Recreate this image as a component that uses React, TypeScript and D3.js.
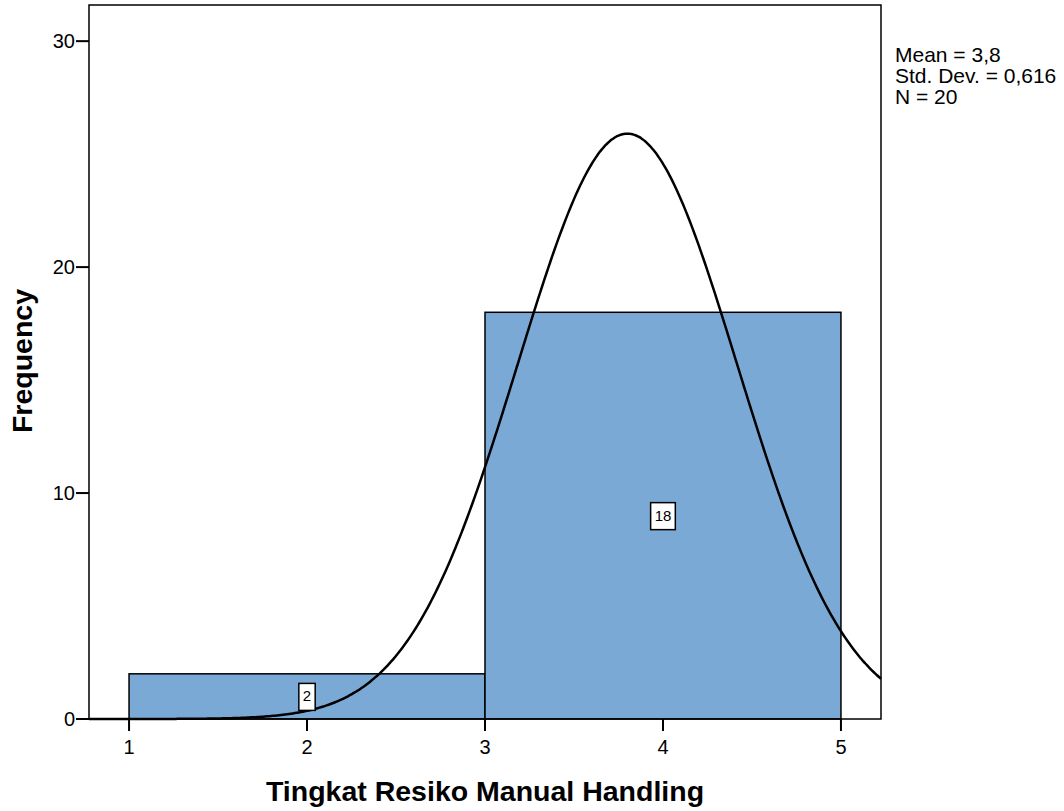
import React, { useEffect, useRef } from "react";
import * as d3 from "d3";

// histogram bins (bin start, bin end, count)
const binStarts = [1, 3];
const binEnds = [3, 5];
const binCounts = [2, 18];

const xTicks = [1, 2, 3, 4, 5];
const yTicks = [0, 10, 20, 30];

const meanValue = 3.8;
const stdDev = 0.616;
const nTotal = 20;
const statLines = ["Mean = 3,8", "Std. Dev. = 0,616", "N = 20"];

const xTitle = "Tingkat Resiko Manual Handling";
const yTitle = "Frequency";

const App = () => {
  const chartRef = useRef<SVGSVGElement>(null);

  useEffect(() => {
    const svg = d3.select(chartRef.current);
    svg.selectAll("*").remove();

    const width = 1064;
    const height = 811;
    const left = 89, right = 881, top = 5, bottom = 719;
    const font = "'Liberation Sans', Arial, sans-serif";

    svg.attr("width", width).attr("height", height)
      .style("display", "block")
      .style("position", "absolute")
      .style("left", "0px")
      .style("top", "0px");

    const x = d3.scaleLinear().domain([0.775, 5.225]).range([left, right]);
    const y = d3.scaleLinear().domain([0, 31.6]).range([bottom, top]);

    svg.append("rect")
      .attr("x", 0).attr("y", 0).attr("width", width).attr("height", height)
      .attr("fill", "#fff");

    // bars
    binCounts.forEach((c, i) => {
      svg.append("rect")
        .attr("x", x(binStarts[i]))
        .attr("y", y(c))
        .attr("width", x(binEnds[i]) - x(binStarts[i]))
        .attr("height", y(0) - y(c))
        .attr("fill", "#7ba9d6")
        .attr("stroke", "#000")
        .attr("stroke-width", 1.5);
    });

    // normal curve, scaled to counts
    const binWidth = binEnds[0] - binStarts[0];
    const pdf = (v: number) =>
      (nTotal * binWidth) / (stdDev * Math.sqrt(2 * Math.PI)) *
      Math.exp(-0.5 * ((v - meanValue) / stdDev) ** 2);
    const pts = d3.range(0, 401).map((i) => {
      const v = 0.775 + (i / 400) * (5.225 - 0.775);
      return [v, pdf(v)] as [number, number];
    });
    const line = d3.line<[number, number]>()
      .x((d) => x(d[0]))
      .y((d) => y(d[1]))
      .curve(d3.curveMonotoneX);
    svg.append("path")
      .datum(pts)
      .attr("d", line)
      .attr("fill", "none")
      .attr("stroke", "#000")
      .attr("stroke-width", 2.5);

    // value labels in the bars
    binCounts.forEach((c, i) => {
      const cx = x((binStarts[i] + binEnds[i]) / 2);
      const cy = y(c / 2);
      const t = svg.append("text")
        .attr("x", cx).attr("y", cy + 5)
        .attr("text-anchor", "middle")
        .attr("font-family", font)
        .attr("font-size", 15)
        .text(String(c));
      const w = (t.node() as SVGTextElement).getComputedTextLength() + 8;
      svg.insert("rect", () => t.node())
        .attr("x", cx - w / 2).attr("y", cy - 13)
        .attr("width", w).attr("height", 27)
        .attr("fill", "#fff")
        .attr("stroke", "#000")
        .attr("stroke-width", 1.5);
    });

    // frame
    svg.append("rect")
      .attr("x", left).attr("y", top)
      .attr("width", right - left).attr("height", bottom - top)
      .attr("fill", "none")
      .attr("stroke", "#000")
      .attr("stroke-width", 1.5);

    // y ticks
    yTicks.forEach((t) => {
      svg.append("line")
        .attr("x1", left - 13).attr("x2", left)
        .attr("y1", y(t)).attr("y2", y(t))
        .attr("stroke", "#000").attr("stroke-width", 2);
      svg.append("text")
        .attr("x", left - 14).attr("y", y(t) + 7)
        .attr("text-anchor", "end")
        .attr("font-family", font)
        .attr("font-size", 20)
        .text(String(t));
    });

    // x ticks
    xTicks.forEach((t) => {
      svg.append("line")
        .attr("x1", x(t)).attr("x2", x(t))
        .attr("y1", bottom).attr("y2", bottom + 12)
        .attr("stroke", "#000").attr("stroke-width", 2);
      svg.append("text")
        .attr("x", x(t)).attr("y", bottom + 35)
        .attr("text-anchor", "middle")
        .attr("font-family", font)
        .attr("font-size", 20)
        .text(String(t));
    });

    // titles
    svg.append("text")
      .attr("x", x(3)).attr("y", 801)
      .attr("text-anchor", "middle")
      .attr("font-family", font)
      .attr("font-size", 28.5)
      .attr("font-weight", "bold")
      .text(xTitle);
    svg.append("text")
      .attr("transform", `translate(32, 361) rotate(-90)`)
      .attr("text-anchor", "middle")
      .attr("font-family", font)
      .attr("font-size", 28.5)
      .attr("font-weight", "bold")
      .text(yTitle);

    // stats
    statLines.forEach((s, i) => {
      svg.append("text")
        .attr("x", 895).attr("y", 62 + i * 21)
        .attr("font-family", font)
        .attr("font-size", 21)
        .text(s);
    });
  }, []);

  return <svg ref={chartRef}></svg>;
};

export default App;
